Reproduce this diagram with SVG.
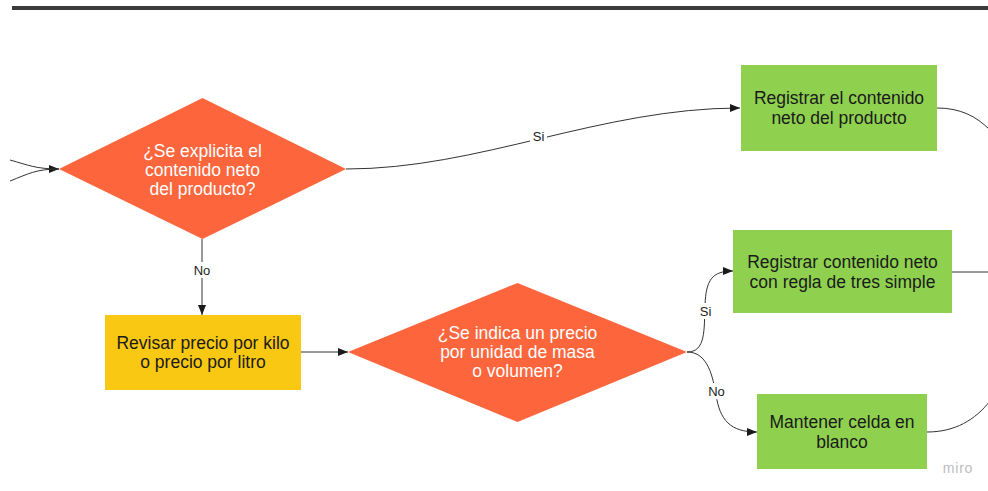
<svg xmlns="http://www.w3.org/2000/svg" width="988" height="491" viewBox="0 0 988 491">
<defs>
<marker id="arr" viewBox="0 0 10 8" refX="10" refY="4" markerWidth="10" markerHeight="8" markerUnits="userSpaceOnUse" orient="auto">
<path d="M0,0 L10,4 L0,8 z" fill="#1a1a1a"/>
</marker>
<style>
.t{font-family:"Liberation Sans",Arial,sans-serif;font-size:17.5px;text-anchor:middle}
.w{fill:#ffffff}
.k{fill:#1a1a1a}
.c{fill:none;stroke:#333333;stroke-width:1}
.lbl{font-family:"Liberation Sans",Arial,sans-serif;font-size:13px;text-anchor:middle;fill:#222222}
.lb{fill:#ffffff}
.dia{fill:#fd663d}
.grn{fill:#8fd14f}
.yel{fill:#f9c812}
</style>
</defs>
<rect width="988" height="491" fill="#ffffff"/>
<rect x="12" y="6" width="976" height="4" fill="#3b3b3b"/>

<g id="connectors">
<path class="c" d="M10,160 C28,165 36,169 59,169" marker-end="url(#arr)"/>
<path class="c" d="M10,181 C28,174 36,169 59,169"/>
<path class="c" d="M346,169 C480,169 600,108 740,108" marker-end="url(#arr)"/>
<path class="c" d="M202,239 L202,315" marker-end="url(#arr)"/>
<path class="c" d="M301,352 L348,352" marker-end="url(#arr)"/>
<path class="c" d="M687,352 C706,352 704,330 705,305 C706,280 712,271 733,271" marker-end="url(#arr)"/>
<path class="c" d="M687,352 C705,352 712,370 716,395 C720,420 730,432 757,432" marker-end="url(#arr)"/>
<path class="c" d="M937,108 C960,108 976,116 990,130"/>
<path class="c" d="M952,272 L988,272"/>
<path class="c" d="M927,432 C955,432 975,420 990,401"/>
<rect class="lb" x="530" y="128" width="17" height="16"/>
<text class="lbl" x="538.5" y="141">Si</text>
<rect class="lb" x="192" y="262" width="21" height="16"/>
<text class="lbl" x="202" y="275">No</text>
<rect class="lb" x="697" y="303" width="17" height="16"/>
<text class="lbl" x="705.5" y="316">Si</text>
<rect class="lb" x="706" y="383" width="21" height="16"/>
<text class="lbl" x="716.5" y="396">No</text>
</g>

<g id="d1">
<polygon class="dia" points="59,169 202.5,98 346,169 202.5,239"/>
<text class="t w" x="202.5" y="157">¿Se explicita el</text>
<text class="t w" x="202.5" y="176">contenido neto</text>
<text class="t w" x="202.5" y="195">del producto?</text>
</g>

<g id="n1">
<rect class="grn" x="741" y="65" width="196" height="86"/>
<text class="t k" x="839" y="104">Registrar el contenido</text>
<text class="t k" x="839" y="124">neto del producto</text>
</g>

<g id="n2">
<rect class="yel" x="105" y="315" width="196" height="75"/>
<text class="t k" x="203" y="349">Revisar precio por kilo</text>
<text class="t k" x="203" y="368">o precio por litro</text>
</g>

<g id="d2">
<polygon class="dia" points="348,352 517.5,283 687,352 517.5,422"/>
<text class="t w" x="517.5" y="339">¿Se indica un precio</text>
<text class="t w" x="517.5" y="358">por unidad de masa</text>
<text class="t w" x="517.5" y="377">o volumen?</text>
</g>

<g id="n3">
<rect class="grn" x="733" y="230" width="219" height="83"/>
<text class="t k" x="842.5" y="268">Registrar contenido neto</text>
<text class="t k" x="842.5" y="288">con regla de tres simple</text>
</g>

<g id="n4">
<rect class="grn" x="757" y="394" width="170" height="75"/>
<text class="t k" x="842" y="428">Mantener celda en</text>
<text class="t k" x="842" y="448">blanco</text>
</g>

<text x="958" y="473" font-family="'Liberation Sans',Arial,sans-serif" font-size="14" letter-spacing="0.8" fill="#bdbdbd" text-anchor="middle">miro</text>
</svg>
